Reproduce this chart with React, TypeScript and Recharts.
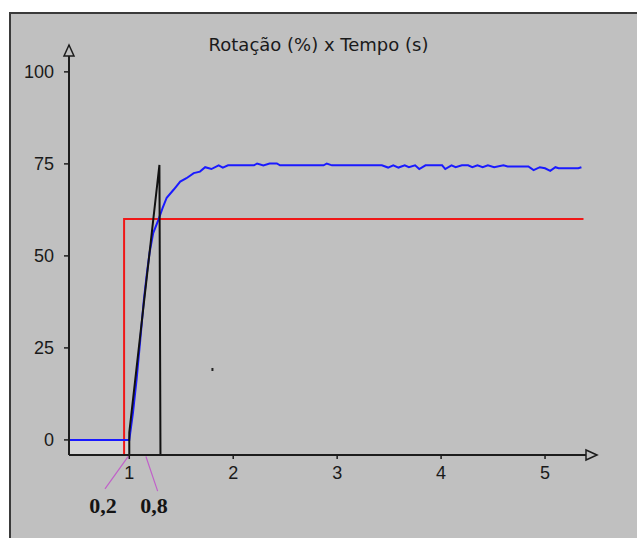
import React from "react";
import {
  LineChart,
  Line,
  XAxis,
  YAxis,
  ReferenceDot,
  ReferenceArea,
  ReferenceLine,
} from "recharts";

// ---- data ----
const title = "Rotação (%) x Tempo (s)";
const xTicks = [1, 2, 3, 4, 5];
const yTicks = [0, 25, 50, 75, 100];
const xDomain: [number, number] = [0.42, 5.5];
const yDomain: [number, number] = [-4.1, 107.3];

const blueTime = [
  0.42, 1.0, 1.035, 1.07, 1.105, 1.14, 1.17, 1.195, 1.23, 1.28, 1.32, 1.36,
  1.43, 1.49, 1.55, 1.62, 1.68, 1.73, 1.79, 1.86, 1.9, 1.95, 2.2, 2.23, 2.29,
  2.35, 2.42, 2.45, 2.87, 2.9, 2.95, 3.43, 3.49, 3.54, 3.59, 3.65, 3.69, 3.75,
  3.79, 3.85, 4.01, 4.04, 4.1, 4.14, 4.2, 4.26, 4.3, 4.35, 4.4, 4.45, 4.51,
  4.6, 4.64, 4.84, 4.89, 4.95, 5.0, 5.05, 5.1, 5.13, 5.32, 5.35,
];
const blueValue = [
  0, 0, 7.3, 16.3, 27, 38, 45.4, 50.8, 56.2, 59.8, 63, 65.8, 68.1, 70.2, 71.1,
  72.5, 72.9, 74.1, 73.6, 74.6, 74.0, 74.6, 74.6, 75.1, 74.6, 75.1, 75.1, 74.6,
  74.6, 75.1, 74.6, 74.6, 74.0, 74.6, 74.0, 74.6, 74.1, 74.6, 73.6, 74.6, 74.6,
  73.6, 74.6, 74.1, 74.6, 74.6, 74.1, 74.6, 74.1, 74.6, 74.1, 74.6, 74.3, 74.3,
  73.3, 74.1, 73.8, 73.1, 74.1, 73.8, 73.8, 74.1,
];

const redTime = [0.95, 0.95, 5.37];
const redValue = [-4.1, 60, 60];

const blackTime = [1.0, 1.0, 1.29, 1.3];
const blackValue = [-4.1, 2, 74.7, -4.1];

const strayDot = { t: 1.8, v: 19 };
const deadZoneEnd = 1.0;

const annotations = [
  { text: "0,2", from: [0.99, -4.5], to: [0.766, -13.3], left: 103, top: 494 },
  { text: "0,8", from: [1.16, -4.5], to: [1.273, -13.9], left: 154, top: 494 },
];

const blueData = blueTime.map((t, i) => ({ t, v: blueValue[i] }));
const redData = redTime.map((t, i) => ({ t, v: redValue[i] }));
const blackData = blackTime.map((t, i) => ({ t, v: blackValue[i] }));

const axisColor = "#1c1c1c";
const bg = "#c0c0c0";
const font = "'Liberation Sans', Arial, sans-serif";

const UpArrow = (props: any) => {
  const { cx, cy } = props;
  return (
    <polygon
      points={`${cx},${cy} ${cx - 5},${cy + 11} ${cx + 5},${cy + 11}`}
      fill={bg}
      stroke={axisColor}
      strokeWidth={1.5}
    />
  );
};
const RightArrow = (props: any) => {
  const { cx, cy } = props;
  return (
    <polygon
      points={`${cx},${cy} ${cx - 11},${cy - 5} ${cx - 11},${cy + 5}`}
      fill={bg}
      stroke={axisColor}
      strokeWidth={1.5}
    />
  );
};
const StrayDot = (props: any) => {
  const { cx, cy } = props;
  return <rect x={cx - 1} y={cy - 2} width={2} height={3} fill="#222" />;
};

export default function App() {
  return (
    <div
      style={{
        position: "absolute",
        left: 0,
        top: 0,
        width: 637,
        height: 538,
        background: "#fff",
        overflow: "hidden",
      }}
    >
      <div
        style={{
          position: "absolute",
          left: 9,
          top: 12,
          width: 640,
          height: 540,
          background: bg,
          borderLeft: "2px solid #3a3a3a",
          borderTop: "2px solid #3a3a3a",
        }}
      />
      <div
        style={{
          position: "absolute",
          left: 0,
          top: 34,
          width: 637,
          textAlign: "center",
          fontFamily: "'DejaVu Sans', sans-serif",
          fontSize: 18,
          color: "#1a1a1a",
          lineHeight: "22px",
        }}
      >
        {title}
      </div>
      <div style={{ position: "absolute", left: 0, top: 0 }}>
        <LineChart
          width={637}
          height={538}
          margin={{ top: 45, right: 40, bottom: 53, left: 9 }}
        >
          <XAxis
            type="number"
            dataKey="t"
            domain={xDomain}
            ticks={xTicks}
            allowDataOverflow
            height={30}
            tickSize={4}
            tickMargin={7}
            axisLine={{ stroke: axisColor, strokeWidth: 2 }}
            tickLine={{ stroke: axisColor, strokeWidth: 1.5 }}
            tick={{ fill: "#1a1a1a", fontSize: 18, fontFamily: font }}
          />
          <YAxis
            type="number"
            dataKey="v"
            domain={yDomain}
            ticks={yTicks}
            allowDataOverflow
            width={60}
            tickSize={5}
            tickMargin={10}
            axisLine={{ stroke: axisColor, strokeWidth: 2 }}
            tickLine={{ stroke: axisColor, strokeWidth: 1.5 }}
            tick={{ fill: "#1a1a1a", fontSize: 18, fontFamily: font }}
          />
          <ReferenceArea
            x1={xDomain[0]}
            x2={deadZoneEnd}
            y1={yDomain[0]}
            y2={0}
            fill="#d4d4d4"
            fillOpacity={1}
            stroke="none"
            ifOverflow="hidden"
          />
          <Line
            data={redData}
            dataKey="v"
            type="linear"
            stroke="#f01818"
            strokeWidth={2}
            dot={false}
            isAnimationActive={false}
          />
          <Line
            data={blueData}
            dataKey="v"
            type="linear"
            stroke="#1a1aff"
            strokeWidth={2}
            dot={false}
            isAnimationActive={false}
          />
          <Line
            data={blackData}
            dataKey="v"
            type="linear"
            stroke="#111"
            strokeWidth={2}
            dot={false}
            isAnimationActive={false}
          />
          {annotations.map((a, i) => (
            <ReferenceLine
              key={i}
              segment={[
                { x: a.from[0], y: a.from[1] },
                { x: a.to[0], y: a.to[1] },
              ]}
              stroke="#c060c8"
              strokeWidth={1.2}
              ifOverflow="visible"
            />
          ))}
          <ReferenceDot
            x={strayDot.t}
            y={strayDot.v}
            shape={StrayDot}
            ifOverflow="visible"
          />
          <ReferenceDot
            x={xDomain[0]}
            y={yDomain[1]}
            shape={UpArrow}
            ifOverflow="visible"
          />
          <ReferenceDot
            x={xDomain[1]}
            y={yDomain[0]}
            shape={RightArrow}
            ifOverflow="visible"
          />
        </LineChart>
      </div>
      {annotations.map((a, i) => (
        <div
          key={i}
          style={{
            position: "absolute",
            left: a.left - 30,
            top: a.top,
            width: 60,
            textAlign: "center",
            fontFamily: "'Liberation Serif', 'Times New Roman', serif",
            fontWeight: "bold",
            fontSize: 22,
            lineHeight: "24px",
            color: "#141414",
          }}
        >
          {a.text}
        </div>
      ))}
    </div>
  );
}
